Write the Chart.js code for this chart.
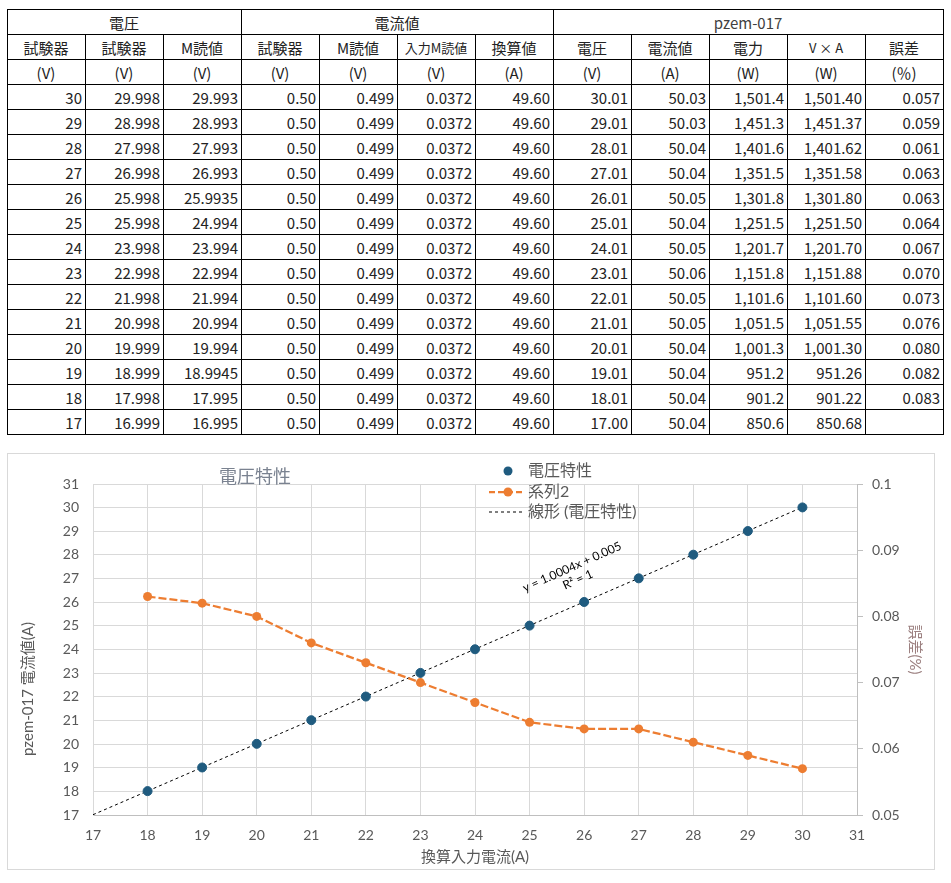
<!DOCTYPE html>
<html lang="ja">
<head>
<meta charset="utf-8">
<title>電圧特性</title>
<script src="https://cdn.jsdelivr.net/npm/chart.js@4.4.1/dist/chart.umd.min.js"></script>
<style>
    body { margin: 0; background: #fff; font-family: "Noto Sans CJK JP", sans-serif; }
    #tbl { position: absolute; left: 7px; top: 9px; border-collapse: collapse; table-layout: fixed; width: 937px; }
    #tbl td { border: 1px solid #000; height: 24px; padding: 0 3px 0 2px; font-size: 15px; line-height: 1; color: #222; text-align: right; white-space: nowrap; overflow: hidden; }
    #tbl tr.h td { text-align: center; }
    #tbl td.small { font-size: 13px; }
    #chartBox { position: absolute; left: 7px; top: 453px; width: 926px; height: 415px; border: 1px solid #d9d9d9; }
</style>
</head>
<body>
<table id="tbl">
    <colgroup id="cols"></colgroup>
    <tr class="h"><td colspan="3">電圧</td><td colspan="4">電流値</td><td colspan="5" style="color:#404040">pzem-017</td></tr>
    <tr class="h"><td>試験器</td><td>試験器</td><td>M読値</td><td>試験器</td><td>M読値</td><td class="small">入力M読値</td><td>換算値</td><td>電圧</td><td>電流値</td><td>電力</td><td class="small">V × A</td><td>誤差</td></tr>
    <tr class="h"><td>(V)</td><td>(V)</td><td>(V)</td><td>(V)</td><td>(V)</td><td>(V)</td><td>(A)</td><td>(V)</td><td>(A)</td><td>(W)</td><td>(W)</td><td>(％)</td></tr>
</table>
<div id="chartBox"><canvas id="voltChart"></canvas></div>

<script>
// 表のデータ (上から 30V → 17V)
const colTesterV   = ['30', '29', '28', '27', '26', '25', '24', '23', '22', '21', '20', '19', '18', '17'];
const colTesterV2  = ['29.998', '28.998', '27.998', '26.998', '25.998', '25.998', '23.998', '22.998', '21.998', '20.998', '19.999', '18.999', '17.998', '16.999'];
const colMReadV    = ['29.993', '28.993', '27.993', '26.993', '25.9935', '24.994', '23.994', '22.994', '21.994', '20.994', '19.994', '18.9945', '17.995', '16.995'];
const colCurTester = ['0.50', '0.50', '0.50', '0.50', '0.50', '0.50', '0.50', '0.50', '0.50', '0.50', '0.50', '0.50', '0.50', '0.50'];
const colCurMRead  = ['0.499', '0.499', '0.499', '0.499', '0.499', '0.499', '0.499', '0.499', '0.499', '0.499', '0.499', '0.499', '0.499', '0.499'];
const colInMRead   = ['0.0372', '0.0372', '0.0372', '0.0372', '0.0372', '0.0372', '0.0372', '0.0372', '0.0372', '0.0372', '0.0372', '0.0372', '0.0372', '0.0372'];
const colConvA     = ['49.60', '49.60', '49.60', '49.60', '49.60', '49.60', '49.60', '49.60', '49.60', '49.60', '49.60', '49.60', '49.60', '49.60'];
const colPzemV     = ['30.01', '29.01', '28.01', '27.01', '26.01', '25.01', '24.01', '23.01', '22.01', '21.01', '20.01', '19.01', '18.01', '17.00'];
const colPzemA     = ['50.03', '50.03', '50.04', '50.04', '50.05', '50.04', '50.05', '50.06', '50.05', '50.05', '50.04', '50.04', '50.04', '50.04'];
const colPzemW     = ['1,501.4', '1,451.3', '1,401.6', '1,351.5', '1,301.8', '1,251.5', '1,201.7', '1,151.8', '1,101.6', '1,051.5', '1,001.3', '951.2', '901.2', '850.6'];
const colVxA       = ['1,501.40', '1,451.37', '1,401.62', '1,351.58', '1,301.80', '1,251.50', '1,201.70', '1,151.88', '1,101.60', '1,051.55', '1,001.30', '951.26', '901.22', '850.68'];
const colErr       = ['0.057', '0.059', '0.061', '0.063', '0.063', '0.064', '0.067', '0.070', '0.073', '0.076', '0.080', '0.082', '0.083', ''];

// グラフのデータ
const chartX    = [18, 19, 20, 21, 22, 23, 24, 25, 26, 27, 28, 29, 30];
const chartVolt = [18.01, 19.01, 20.01, 21.01, 22.01, 23.01, 24.01, 25.01, 26.01, 27.01, 28.01, 29.01, 30.01];
const chartErr  = [0.083, 0.082, 0.080, 0.076, 0.073, 0.070, 0.067, 0.064, 0.063, 0.063, 0.061, 0.059, 0.057];
const trendX    = [17, 30];
const trendY    = [17.012, 30.017];

const xTicks  = [17, 31, 1];
const yTicks  = [17, 31, 1];
const y1Ticks = [0.05, 0.1, 0.01];

const FONT = 'Lato, "Noto Sans CJK JP", sans-serif';
const TICK_COLOR = '#595959';

// 表を作る
function buildTable() {
    const table = document.getElementById('tbl');
    const cols = document.getElementById('cols');
    for (let c = 0; c < 12; c++) {
        const col = document.createElement('col');
        col.style.width = '78px';
        cols.appendChild(col);
    }
    const columns = [colTesterV, colTesterV2, colMReadV, colCurTester, colCurMRead, colInMRead,
                     colConvA, colPzemV, colPzemA, colPzemW, colVxA, colErr];
    for (let r = 0; r < colTesterV.length; r++) {
        const tr = document.createElement('tr');
        for (let c = 0; c < columns.length; c++) {
            const td = document.createElement('td');
            td.textContent = columns[c][r];
            tr.appendChild(td);
        }
        table.appendChild(tr);
    }
}

// タイトル・凡例・近似式
const chartDecor = {
    id: 'chartDecor',
    afterDraw(chart) {
        const ctx = chart.ctx;
        const x = chart.scales.x;
        const y = chart.scales.y;
        ctx.save();
        ctx.textBaseline = 'middle';

        // グラフタイトル
        ctx.font = '18px ' + FONT;
        ctx.fillStyle = '#7a8290';
        ctx.textAlign = 'center';
        ctx.fillText('電圧特性', 247, 23);

        // 縦軸ラベル(左)
        ctx.save();
        ctx.font = '15px ' + FONT;
        ctx.fillStyle = TICK_COLOR;
        ctx.translate(20, 235);
        ctx.rotate(-Math.PI / 2);
        ctx.fillText('pzem-017 電流値(A)', 0, 0);
        ctx.restore();

        // 凡例
        ctx.font = '16px ' + FONT;
        ctx.textAlign = 'left';
        ctx.fillStyle = '#1f5b7f';
        ctx.beginPath();
        ctx.arc(500, 17, 4.5, 0, Math.PI * 2);
        ctx.fill();
        ctx.fillStyle = TICK_COLOR;
        ctx.fillText('電圧特性', 520, 17);

        ctx.strokeStyle = '#ED7D31';
        ctx.lineWidth = 2.25;
        ctx.setLineDash([6, 3]);
        ctx.beginPath();
        ctx.moveTo(481, 38);
        ctx.lineTo(517, 38);
        ctx.stroke();
        ctx.setLineDash([]);
        ctx.fillStyle = '#ED7D31';
        ctx.beginPath();
        ctx.arc(500, 38, 4.5, 0, Math.PI * 2);
        ctx.fill();
        ctx.fillStyle = TICK_COLOR;
        ctx.fillText('系列2', 520, 38);

        ctx.strokeStyle = '#000';
        ctx.lineWidth = 1;
        ctx.setLineDash([3, 3]);
        ctx.beginPath();
        ctx.moveTo(481, 58);
        ctx.lineTo(514, 58);
        ctx.stroke();
        ctx.setLineDash([]);
        ctx.fillText('線形 (電圧特性)', 520, 58);

        // 近似式
        ctx.translate(x.getPixelForValue(25.78), y.getPixelForValue(27.49));
        ctx.rotate(-24 * Math.PI / 180);
        ctx.font = '12px ' + FONT;
        ctx.fillStyle = '#000';
        ctx.textAlign = 'center';
        ctx.fillText('y = 1.0004x + 0.005', 0, 0);
        ctx.fillText('R² = 1', 0, 14);
        ctx.restore();
    }
};

function createChart() {
    const data = {
        datasets: [{
            type: 'scatter',
            label: '電圧特性',
            data: chartX.map((v, i) => ({ x: v, y: chartVolt[i] })),
            backgroundColor: '#1f5b7f',
            borderColor: '#1f5b7f',
            pointRadius: 4.5,
            yAxisID: 'y',
            order: 0
        }, {
            type: 'line',
            label: '系列2',
            data: chartX.map((v, i) => ({ x: v, y: chartErr[i] })),
            borderColor: '#ED7D31',
            backgroundColor: '#ED7D31',
            borderWidth: 2.25,
            borderDash: [8, 3],
            pointRadius: 4.5,
            pointBorderWidth: 0,
            tension: 0,
            yAxisID: 'y1',
            order: 1
        }, {
            type: 'line',
            label: '線形 (電圧特性)',
            data: trendX.map((v, i) => ({ x: v, y: trendY[i] })),
            borderColor: '#000',
            borderWidth: 1,
            borderDash: [3, 3],
            pointRadius: 0,
            yAxisID: 'y',
            order: 2
        }]
    };

    const tickFont = { size: 14, family: FONT };

    const config = {
        type: 'scatter',
        data: data,
        options: {
            responsive: true,
            maintainAspectRatio: false,
            animation: false,
            layout: { padding: { top: 30, left: 0, right: 0, bottom: 0 } },
            plugins: {
                legend: { display: false },
                title: { display: false },
                tooltip: { enabled: false }
            },
            scales: {
                x: {
                    type: 'linear',
                    min: xTicks[0],
                    max: xTicks[1],
                    ticks: { stepSize: xTicks[2], color: TICK_COLOR, font: tickFont, padding: 12 },
                    grid: { color: '#d9d9d9', drawTicks: false },
                    border: { color: '#bfbfbf' },
                    title: {
                        display: true,
                        text: '換算入力電流(A)',
                        color: TICK_COLOR,
                        font: { size: 15, family: FONT },
                        padding: { top: 0, bottom: 3 }
                    },
                    afterFit(scale) { scale.height = 54; }
                },
                y: {
                    position: 'left',
                    min: yTicks[0],
                    max: yTicks[1],
                    ticks: { stepSize: yTicks[2], color: TICK_COLOR, font: tickFont, padding: 14 },
                    grid: { color: '#d9d9d9', drawTicks: false },
                    border: { color: '#d9d9d9' },
                    afterFit(scale) { scale.width = 85; }
                },
                y1: {
                    position: 'right',
                    min: y1Ticks[0],
                    max: y1Ticks[1],
                    ticks: {
                        stepSize: y1Ticks[2],
                        color: TICK_COLOR,
                        font: tickFont,
                        padding: 9,
                        callback: v => String(+v.toFixed(2))
                    },
                    grid: { drawOnChartArea: false, color: '#bfbfbf', tickLength: 6 },
                    border: { color: '#bfbfbf' },
                    title: {
                        display: true,
                        text: '誤差(%)',
                        color: '#9c8080',
                        font: { size: 15, family: FONT },
                        padding: { top: 10 }
                    },
                    afterFit(scale) { scale.width = 77; }
                }
            }
        },
        plugins: [chartDecor]
    };

    return new Chart('voltChart', config);
}

buildTable();
createChart();
</script>
</body>
</html>
